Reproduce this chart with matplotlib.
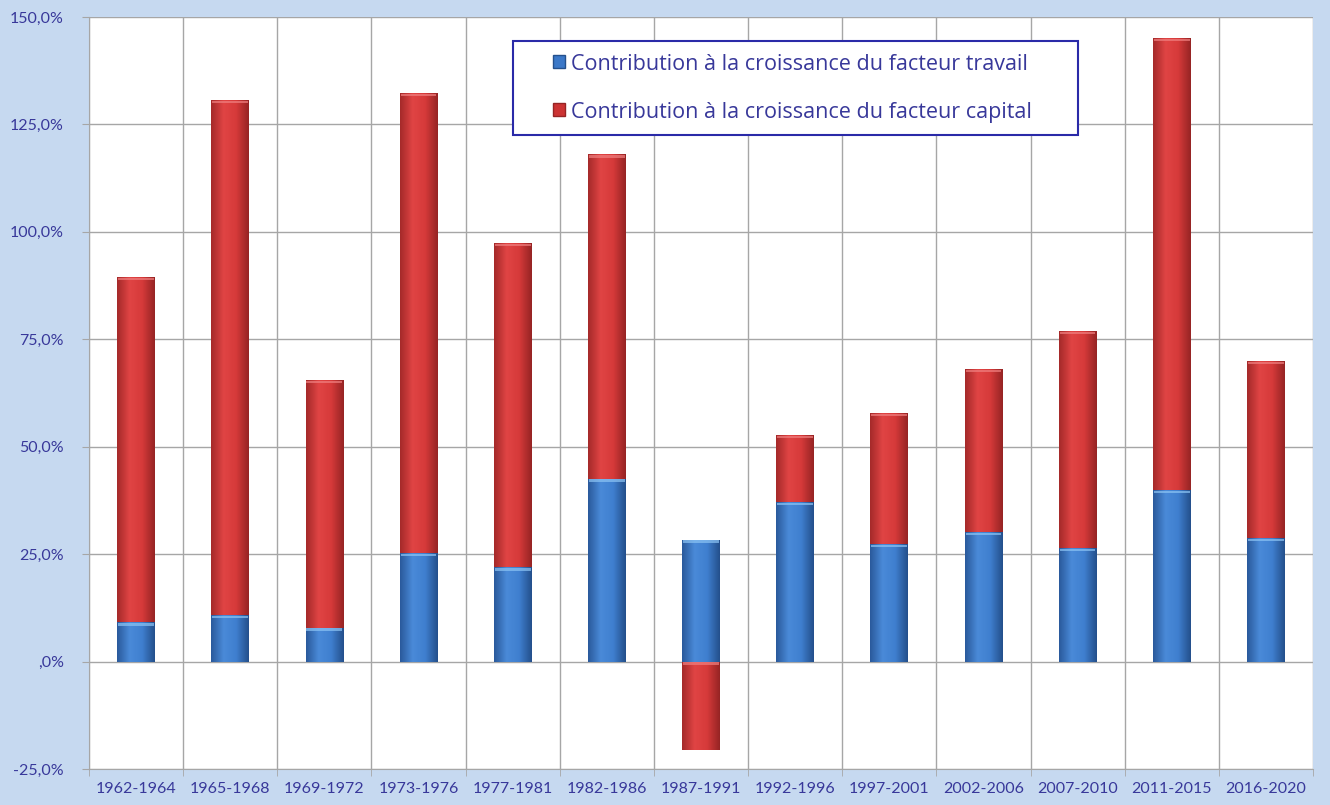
import numpy as np
import matplotlib
matplotlib.use("Agg")
import matplotlib.pyplot as plt
from matplotlib.patches import Patch, Rectangle
from matplotlib.colors import LinearSegmentedColormap

periods = ["1962-1964", "1965-1968", "1969-1972", "1973-1976", "1977-1981",
           "1982-1986", "1987-1991", "1992-1996", "1997-2001", "2002-2006",
           "2007-2010", "2011-2015", "2016-2020"]
travail = [9.1, 10.9, 7.9, 25.3, 21.9, 42.6, 28.4, 37.2, 27.4, 30.2, 26.5, 40.0, 28.8]
capital = [80.4, 119.8, 57.7, 107.0, 75.5, 75.5, -20.5, 15.6, 30.5, 37.9, 50.5, 105.1, 41.2]
yticks = [-25, 0, 25, 50, 75, 100, 125, 150]

plt.rcParams['font.family'] = ['Lato', 'DejaVu Sans']
text_col = "#38389a"
bg = "#c6d9f0"

fig = plt.figure(figsize=(13.3, 8.05), dpi=100, facecolor=bg)
ax = fig.add_axes([0.0669, 0.0447, 0.9203, 0.9342])
ax.set_facecolor("white")

x = np.arange(len(periods))
trav = np.array(travail)
cap = np.array(capital)
cap_bottom = np.where((cap >= 0) == (trav >= 0), trav, 0)

w = 0.40
b1 = ax.bar(x, trav, w, color="#3b78c8", zorder=3)
b2 = ax.bar(x, cap, w, bottom=cap_bottom, color="#cc3333", zorder=3)

ax.set_xlim(-0.5, len(periods) - 0.5)
ax.set_ylim(-25, 150)

# shaded bars like the Excel original: horizontal gradient + light top strip
blue_cm = LinearSegmentedColormap.from_list("b", ["#2a5a9c", "#4a8ad8", "#3f7fcf", "#24508c"])
red_cm = LinearSegmentedColormap.from_list("r", ["#a52a2a", "#e04444", "#d63a3a", "#962424"])
grad = np.linspace(0, 1, 64).reshape(1, -1)
for bars, cm, hi in [(b1, blue_cm, "#8cc4f4"), (b2, red_cm, "#f08080")]:
    for p in bars:
        x0, y0 = p.get_x(), p.get_y()
        pw, ph = p.get_width(), p.get_height()
        y_lo, y_hi = min(y0, y0 + ph), max(y0, y0 + ph)
        im = ax.imshow(grad, cmap=cm, aspect="auto", extent=(x0, x0 + pw, y_lo, y_hi),
                       zorder=3.1, interpolation="bilinear")
        im.set_clip_path(p)
        p.set_edgecolor("none")
        ax.fill_between([x0 + 0.01, x0 + pw - 0.01], y_hi - 0.8, y_hi - 0.2,
                        color=hi, alpha=0.7, zorder=3.2, lw=0)

ax.set_xlim(-0.5, len(periods) - 0.5)
ax.set_ylim(-25, 150)

ax.set_yticks(yticks)
ax.set_yticklabels([(",0%" if v == 0 else f"{v},0%") for v in yticks])
ax.set_xticks(x)
ax.set_xticklabels(periods)
ax.set_xticks(np.arange(-0.5, len(periods), 1), minor=True)

ax.grid(axis="y", color="#a6a6a6", lw=1.0, zorder=1)
ax.grid(axis="x", which="minor", color="#a6a6a6", lw=1.0, zorder=1)
ax.tick_params(axis="y", colors="#a6a6a6", labelcolor=text_col, labelsize=11.5,
               length=5, pad=13)
ax.tick_params(axis="x", which="major", length=0, labelcolor=text_col, labelsize=11.5, pad=9)
ax.tick_params(axis="x", which="minor", length=5, color="#a6a6a6")
for s in ax.spines.values():
    s.set_visible(False)
ax.spines["left"].set_visible(True)
ax.spines["left"].set_color("#a6a6a6")
ax.spines["bottom"].set_visible(True)
ax.spines["bottom"].set_color("#a6a6a6")

# legend box drawn separately to get the wide side margins
ax.add_patch(Rectangle((0.3464, 0.843), 0.4616, 0.125, transform=ax.transAxes,
                       facecolor="white", edgecolor="#2a2aa8", lw=1.5, zorder=5))
handles = [Patch(facecolor="#3b78c8", edgecolor="#24508c"),
           Patch(facecolor="#cc3333", edgecolor="#962424")]
leg = ax.legend(handles, ["Contribution à la croissance du facteur travail",
                          "Contribution à la croissance du facteur capital"],
                loc="center", bbox_to_anchor=(0.575, 0.9055), frameon=False,
                prop={"family": ["Open Sans", "DejaVu Sans"], "size": 15.5},
                handlelength=0.55, handleheight=0.55, handletextpad=0.3,
                labelspacing=1.25, borderpad=0.2)
leg.set_zorder(6)
for t in leg.get_texts():
    t.set_color(text_col)

fig.savefig("out.png", dpi=100, facecolor=bg)
